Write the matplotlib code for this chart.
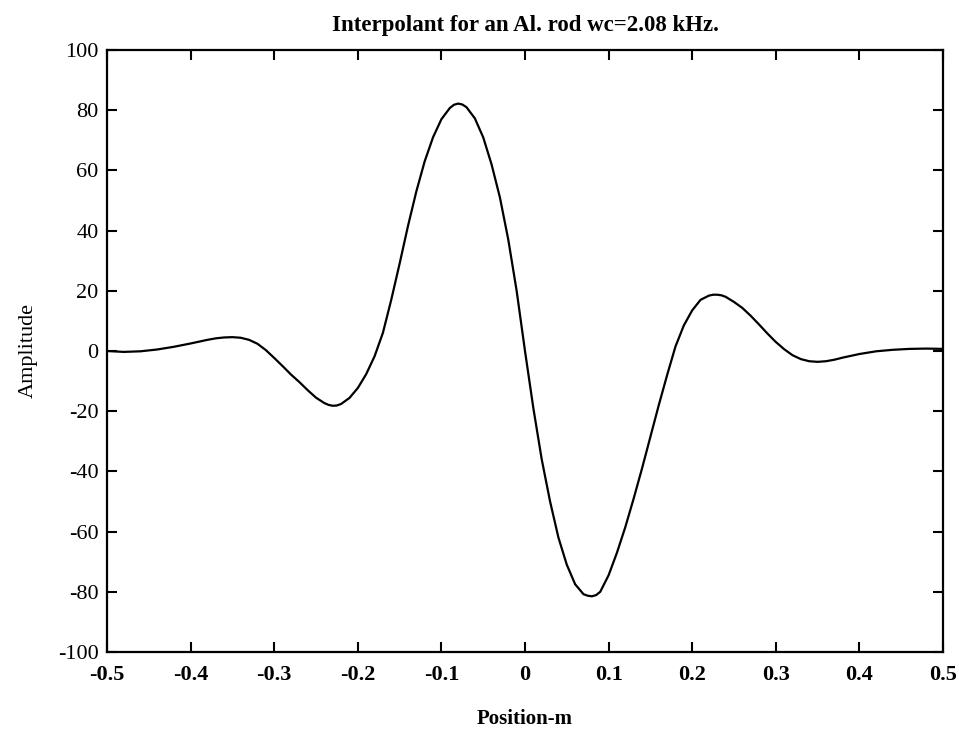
import matplotlib
matplotlib.use("Agg")
import matplotlib.pyplot as plt

# Interpolant sampled along the rod (position in m, amplitude)
position = [
    -0.50, -0.48, -0.46, -0.44, -0.42, -0.40, -0.39, -0.38, -0.37, -0.36,
    -0.35, -0.34, -0.33, -0.32, -0.31, -0.30, -0.29, -0.28, -0.27, -0.26,
    -0.25, -0.24, -0.235, -0.23, -0.225, -0.22, -0.21, -0.20, -0.19, -0.18,
    -0.17, -0.16, -0.15, -0.14, -0.13, -0.12, -0.11, -0.10, -0.09, -0.085,
    -0.08, -0.075, -0.07, -0.06, -0.05, -0.04, -0.03, -0.02, -0.01, 0.00,
    0.01, 0.02, 0.03, 0.04, 0.05, 0.06, 0.07, 0.075, 0.08, 0.085,
    0.09, 0.10, 0.11, 0.12, 0.13, 0.14, 0.15, 0.16, 0.17, 0.18,
    0.19, 0.20, 0.21, 0.22, 0.225, 0.23, 0.235, 0.24, 0.25, 0.26,
    0.27, 0.28, 0.29, 0.30, 0.31, 0.32, 0.33, 0.34, 0.35, 0.36,
    0.37, 0.38, 0.39, 0.40, 0.42, 0.44, 0.46, 0.48, 0.50,
]
amplitude = [
    0.0, -0.3, -0.1, 0.5, 1.4, 2.5, 3.1, 3.7, 4.2, 4.5,
    4.6, 4.4, 3.7, 2.4, 0.3, -2.3, -5.0, -7.8, -10.3, -13.0,
    -15.5, -17.3, -17.9, -18.2, -18.1, -17.6, -15.6, -12.3, -7.7, -1.8,
    6.0, 17.0, 29.0, 41.5, 53.0, 63.0, 71.0, 77.0, 80.7, 81.8,
    82.2, 81.9, 81.0, 77.3, 71.0, 62.0, 51.0, 37.0, 20.0, 0.0,
    -19.0, -36.0, -50.0, -62.0, -71.0, -77.5, -80.8, -81.3, -81.5, -81.1,
    -80.0, -74.5, -67.0, -58.5, -49.0, -39.0, -28.5, -18.0, -8.0, 1.5,
    8.5, 13.5, 17.0, 18.4, 18.7, 18.7, 18.5, 18.0, 16.3, 14.3,
    11.7, 8.8, 5.8, 3.0, 0.6, -1.4, -2.7, -3.4, -3.6, -3.4,
    -2.9, -2.2, -1.6, -1.0, -0.1, 0.4, 0.7, 0.8, 0.7,
]

x_ticks = [-0.5, -0.4, -0.3, -0.2, -0.1, 0, 0.1, 0.2, 0.3, 0.4, 0.5]
x_tick_labels = ["-0.5", "-0.4", "-0.3", "-0.2", "-0.1", "0",
                 "0.1", "0.2", "0.3", "0.4", "0.5"]
y_ticks = [-100, -80, -60, -40, -20, 0, 20, 40, 60, 80, 100]
y_tick_labels = [str(v) for v in y_ticks]

plt.rcParams["font.family"] = ["Liberation Serif", "DejaVu Serif"]

fig = plt.figure(figsize=(9.59, 7.32), dpi=100)
ax = fig.add_axes([107 / 959, 1 - 652 / 732, (943 - 107) / 959, (652 - 50) / 732])

ax.plot(position, amplitude, color="black", linewidth=1.6)

ax.set_xlim(-0.5, 0.5)
ax.set_ylim(-100, 100)
ax.set_xticks(x_ticks)
ax.set_xticklabels(x_tick_labels, fontsize=16, fontweight="bold")
ax.set_yticks(y_ticks)
ax.set_yticklabels(y_tick_labels, fontsize=16)

ax.tick_params(direction="in", length=7, width=1.5, top=True, right=True,
               colors="black")
ax.tick_params(axis="x", pad=9)
ax.tick_params(axis="y", pad=6)
for side in ax.spines.values():
    side.set_linewidth(1.6)
    side.set_color("black")

ax.set_title("Interpolant for an Al. rod wc=2.08 kHz.", fontsize=16.5,
             fontweight="bold", pad=14)
ax.set_xlabel("Position-m", fontsize=15, fontweight="bold")
ax.xaxis.set_label_coords(0.5, -0.094)
ax.set_ylabel("Amplitude", fontsize=16)
ax.yaxis.set_label_coords(-0.083, 0.5)

fig.savefig("out.png", dpi=100, facecolor="white")
